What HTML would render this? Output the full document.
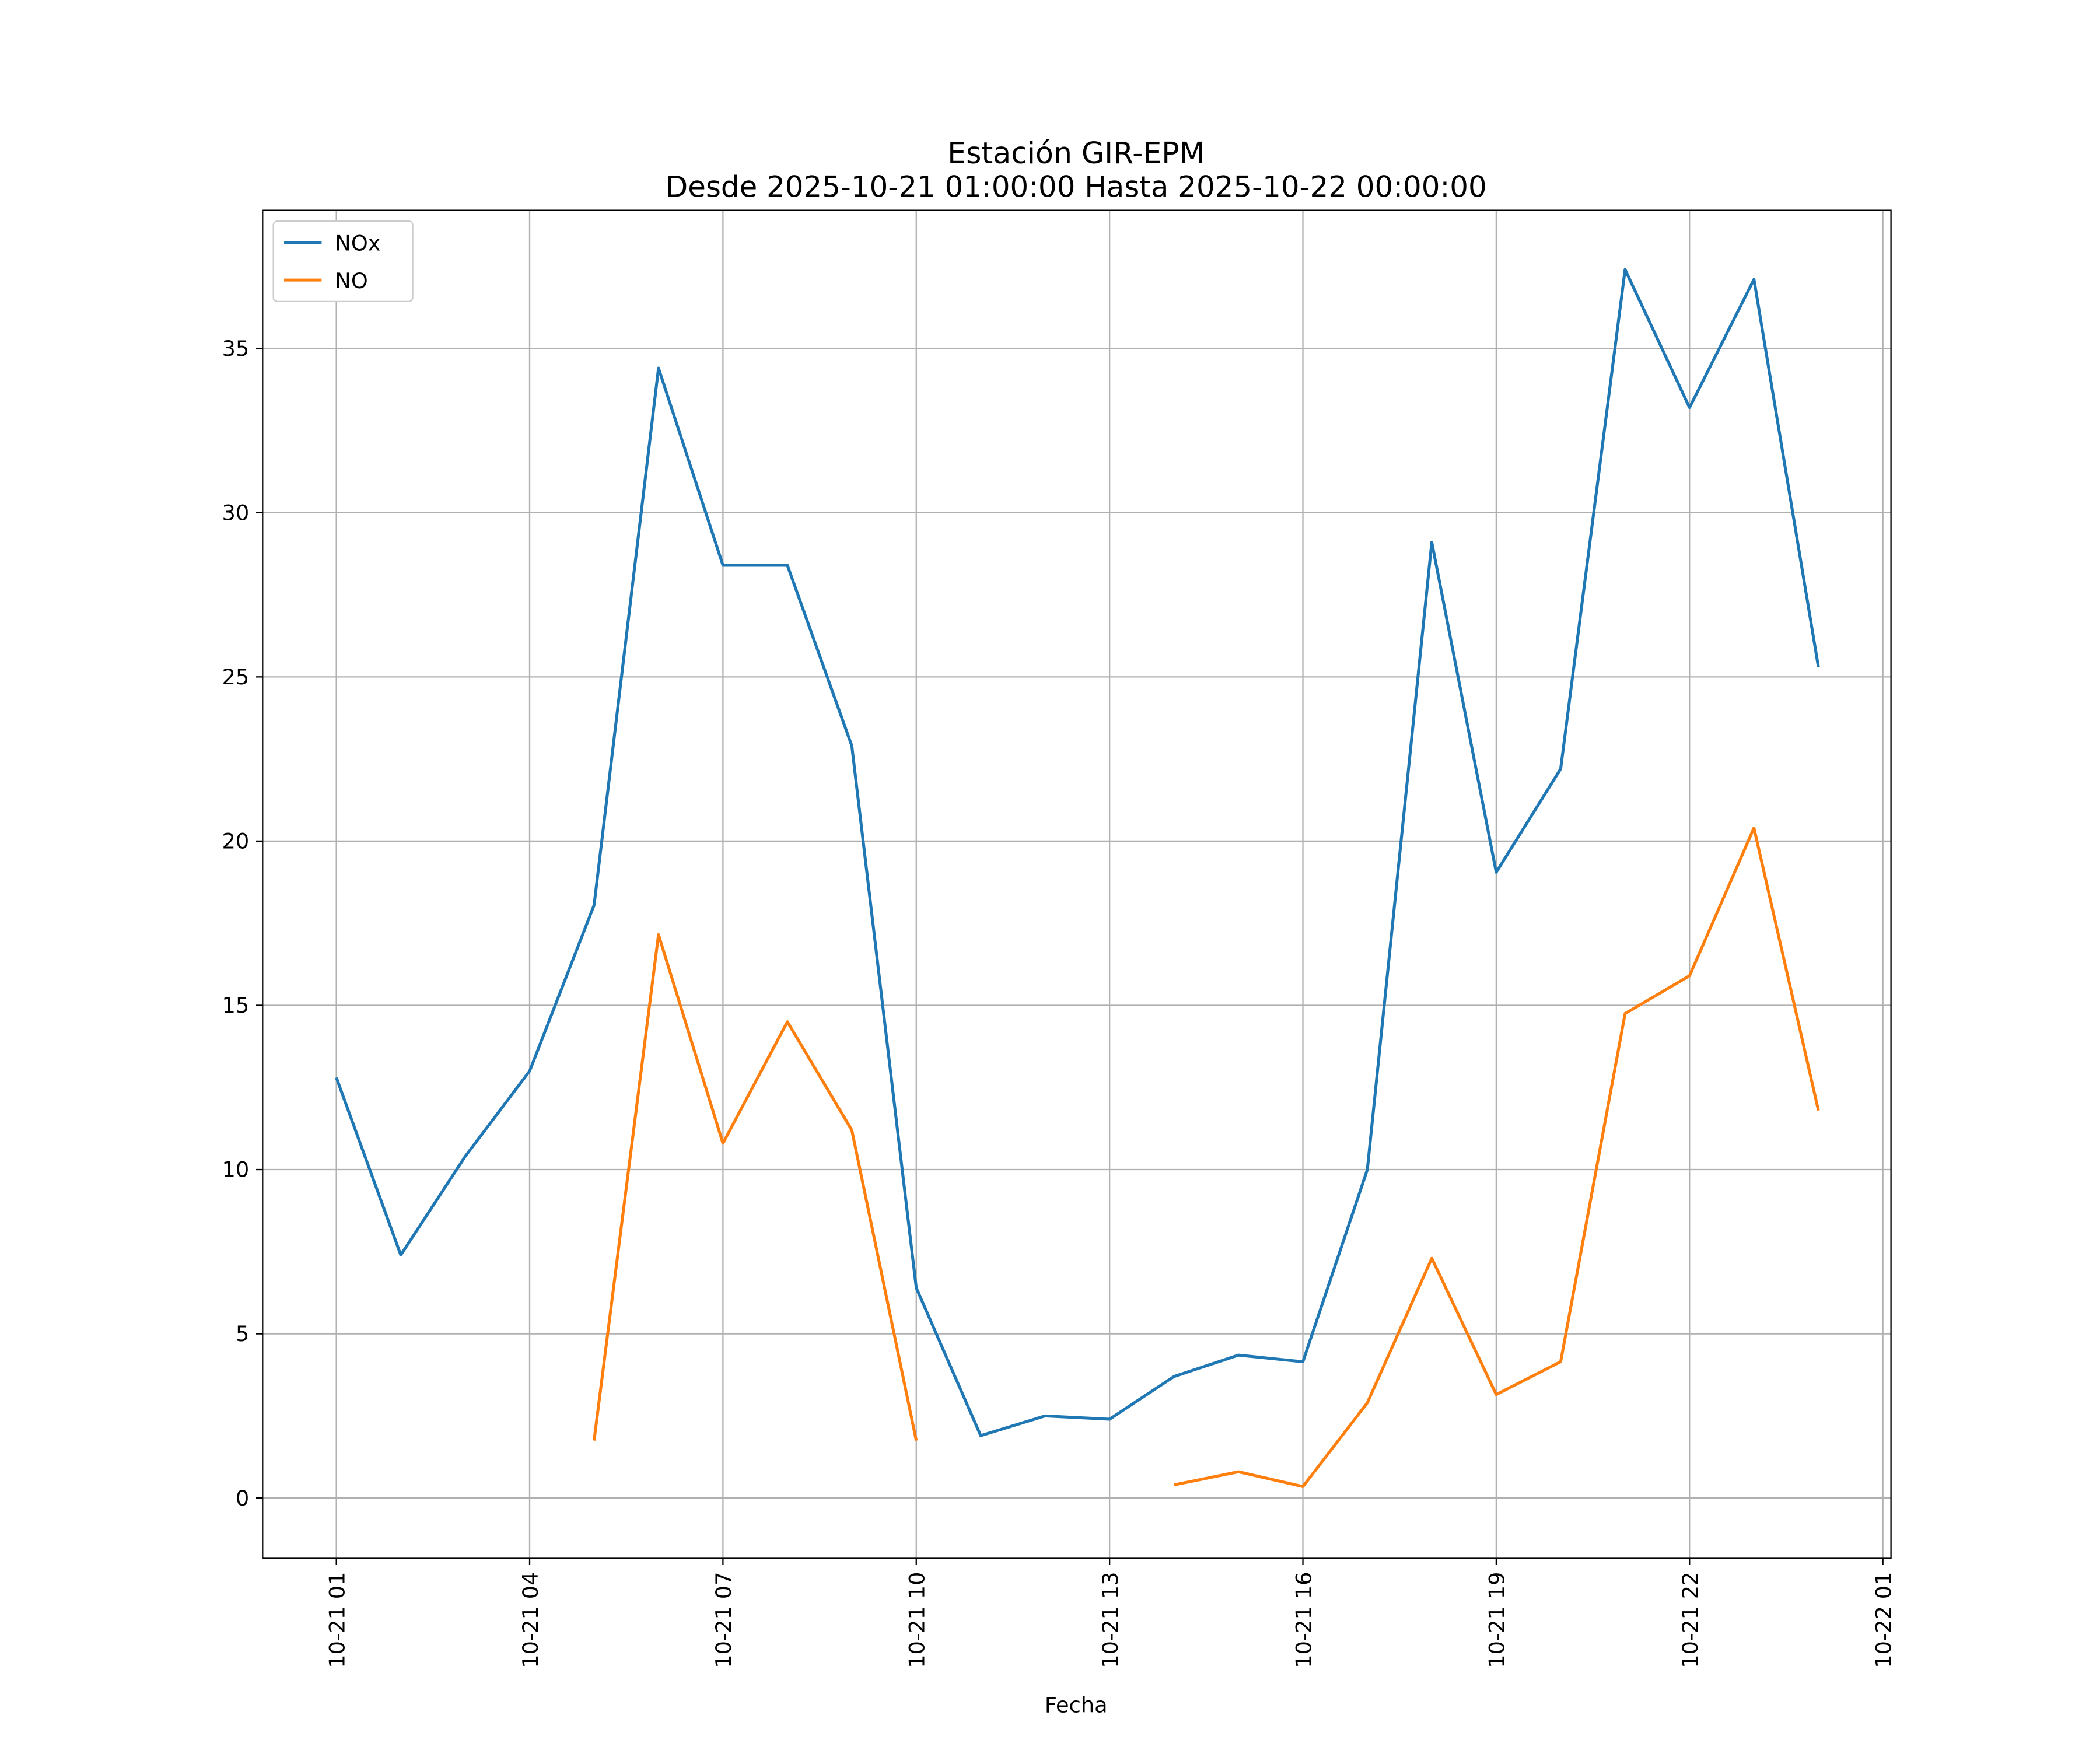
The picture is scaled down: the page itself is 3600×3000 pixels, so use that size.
<!DOCTYPE html>
<html><head><meta charset="utf-8">
<style>
html,body{margin:0;padding:0;background:#fff;}
svg{display:block;font-family:"DejaVu Sans","Liberation Sans",sans-serif;}
</style></head>
<body>
<svg id="chart" width="3600" height="3000" viewBox="0 0 1567 1306" preserveAspectRatio="none" xmlns="http://www.w3.org/2000/svg">
<rect x="0" y="0" width="1567" height="1306" fill="#fff"/>
<text x="803" y="122" text-anchor="middle" font-size="22" fill="#000">Estación GIR-EPM</text>
<text x="803" y="147" text-anchor="middle" font-size="21.7" fill="#000">Desde 2025-10-21 01:00:00 Hasta 2025-10-22 00:00:00</text>
<g id="grid"></g>
<g id="series"></g>
<rect x="196" y="157" width="1215" height="1006" fill="none" stroke="#000" stroke-width="1"/>
<g id="axes"></g>
<text x="803" y="1278" text-anchor="middle" font-size="16" fill="#000">Fecha</text>
<g>
<rect x="204" y="165" width="104" height="60" rx="3" fill="#fff" stroke="#ccc" stroke-width="1"/>
<g>
<line x1="212" y1="181" x2="240" y2="181" stroke="#1f77b4" stroke-width="2.2"/>
<text x="250" y="187" font-size="16">NOx</text></g>
<g>
<line x1="212" y1="209" x2="240" y2="209" stroke="#ff7f0e" stroke-width="2.2"/>
<text x="250" y="215" font-size="16">NO</text></g>
</g>
</svg>
<script>
const hours = [1,2,3,4,5,6,7,8,9,10,11,12,13,14,15,16,17,18,19,20,21,22,23,24];
const noxValues = [12.8,7.4,10.4,13.0,18.05,34.4,28.4,28.4,22.9,6.4,1.9,2.5,2.4,3.7,4.35,4.15,10.0,29.1,19.05,22.2,37.4,33.2,37.1,25.3];
const noValues = [null,null,null,null,1.75,17.15,10.8,14.5,11.2,1.75,null,null,null,0.4,0.8,0.35,2.9,7.3,3.15,4.15,14.75,15.9,20.4,11.8];
const yTicks = [0,5,10,15,20,25,30,35];
const xTickHours = [1,4,7,10,13,16,19,22,25];
const xTickLabels = ["10-21 01","10-21 04","10-21 07","10-21 10","10-21 13","10-21 16","10-21 19","10-21 22","10-22 01"];

const NS="http://www.w3.org/2000/svg";
function xs(h){return 251+(h-1)*48.08;}
function ys(v){return 1118-v*24.514;}
function mk(tag,attrs,parent){const e=document.createElementNS(NS,tag);for(const k in attrs)e.setAttribute(k,attrs[k]);parent.appendChild(e);return e;}
const grid=document.getElementById('grid'),axes=document.getElementById('axes'),series=document.getElementById('series');

yTicks.forEach(v=>{
  const y=ys(v);
  const gl=mk('line',{x1:196,x2:1411,y1:y,y2:y,stroke:'#b0b0b0','stroke-width':1},grid);
  
  
  mk('line',{x1:191,x2:196,y1:y,y2:y,stroke:'#000','stroke-width':1},axes);
  const t=mk('text',{x:186,y:y+5.5,'text-anchor':'end','font-size':16},axes);
  t.textContent=v;
  
  
});
xTickHours.forEach((h,i)=>{
  const x=xs(h);
  const gl=mk('line',{x1:x,x2:x,y1:157,y2:1163,stroke:'#b0b0b0','stroke-width':1},grid);
  
  
  mk('line',{x1:x,x2:x,y1:1163,y2:1168,stroke:'#000','stroke-width':1},axes);
  const t=mk('text',{x:0,y:0,'text-anchor':'end','font-size':16,transform:`translate(${x+6},1173) rotate(-90)`},axes);
  t.textContent=xTickLabels[i];
  
  
});

function drawSeries(vals,color,name){
  let d='',pen=false;
  vals.forEach((v,i)=>{
    if(v===null){pen=false;return;}
    d+=(pen?'L':'M')+xs(hours[i]).toFixed(2)+' '+ys(v).toFixed(2)+' ';
    pen=true;
  });
  const p=mk('path',{d:d,fill:'none',stroke:color,'stroke-width':2.2,'stroke-linejoin':'round'},series);
  
  
}
drawSeries(noxValues,'#1f77b4','nox-line');
drawSeries(noValues,'#ff7f0e','no-line');
</script>
</body></html>
